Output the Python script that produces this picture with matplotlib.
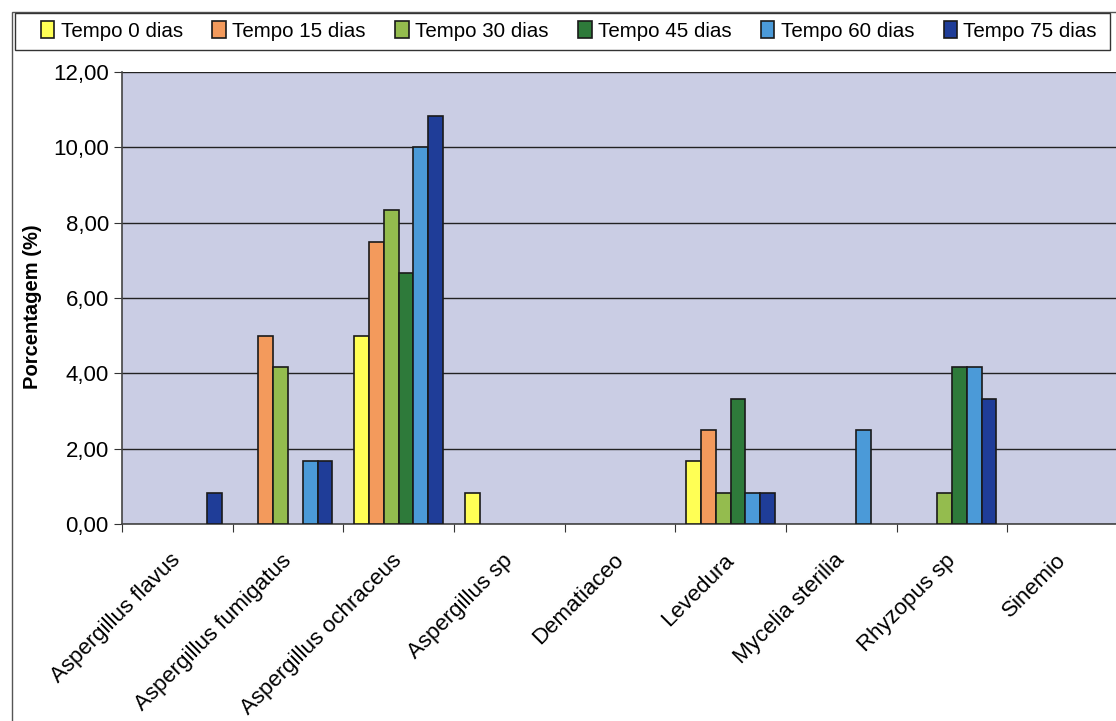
import numpy as np
import matplotlib.pyplot as plt
from matplotlib.patches import Rectangle
from matplotlib.transforms import ScaledTranslation

plt.rcParams['font.family'] = ['Liberation Sans', 'DejaVu Sans']

categorias = ['Aspergillus flavus', 'Aspergillus fumigatus', 'Aspergillus ochraceus',
              'Aspergillus sp', 'Dematiaceo', 'Levedura', 'Mycelia sterilia',
              'Rhyzopus sp', 'Sinemio']
series = ['Tempo 0 dias', 'Tempo 15 dias', 'Tempo 30 dias',
          'Tempo 45 dias', 'Tempo 60 dias', 'Tempo 75 dias']

t0 = [0, 0, 5.00, 0.83, 0, 1.67, 0, 0, 0]
t15 = [0, 5.00, 7.50, 0, 0, 2.50, 0, 0, 0]
t30 = [0, 4.17, 8.33, 0, 0, 0.83, 0, 0.83, 0]
t45 = [0, 0, 6.67, 0, 0, 3.33, 0, 4.17, 0]
t60 = [0, 1.67, 10.00, 0, 0, 0.83, 2.50, 4.17, 0]
t75 = [0.83, 1.67, 10.83, 0, 0, 0.83, 0, 3.33, 0]

cores = ['#FFFF55', '#F39A5C', '#94BC4E', '#2E7A3A', '#4B9AD8', '#1F3D98']

W, H = 1116, 721
fig = plt.figure(figsize=(W / 100, H / 100), dpi=100)

# moldura externa e caixa da legenda
fig.patches.append(Rectangle((12 / W, -0.01), 1.1, 1 - 12 / H + 0.01,
                             transform=fig.transFigure, fill=False,
                             edgecolor='#555555', lw=1))
fig.patches.append(Rectangle((15 / W, 1 - 50 / H), 1095 / W, 37 / H,
                             transform=fig.transFigure, facecolor='white',
                             edgecolor='#333333', lw=1))

ax = fig.add_axes([122 / W, 197 / H, 996 / W, 452 / H])
ax.set_facecolor('#CACDE4')

x = np.arange(len(categorias))
largura = 0.8 / len(series)
for i, (nome, vals) in enumerate(zip(series, [t0, t15, t30, t45, t60, t75])):
    vals = np.array(vals)
    pos = x + (i - 2.5) * largura
    m = vals > 0
    ax.bar(pos[m], vals[m], width=largura, color=cores[i], edgecolor='#1a1a1a',
           lw=1.2, zorder=3, label=nome)

ax.set_xlim(-0.5, len(categorias) - 0.5)
ax.set_ylim(0, 12)
ax.set_yticks(np.arange(0, 13, 2))
ax.set_yticklabels([f'{v:.2f}'.replace('.', ',') for v in np.arange(0, 13, 2)],
                   fontsize=16)
ax.yaxis.grid(True, color='#222222', lw=1, zorder=1)
ax.set_axisbelow(True)

ax.set_xticks(np.arange(-0.5, len(categorias)), labels=[])
ax.set_xticks(x, minor=True)
ax.set_xticklabels(categorias, minor=True, rotation=45, ha='right', va='center',
                   rotation_mode='anchor', fontsize=16)
desloc = ScaledTranslation(-8 / 100, 0, fig.dpi_scale_trans)
for t in ax.get_xticklabels(minor=True):
    t.set_transform(t.get_transform() + desloc)
ax.tick_params(axis='x', which='minor', length=0, pad=24)
ax.tick_params(axis='x', which='major', length=6, color='#333333', direction='out')
ax.tick_params(axis='y', length=6, color='#333333', direction='out', pad=3.5)

for s in ['left', 'bottom']:
    ax.spines[s].set_color('#444444')
    ax.spines[s].set_lw(1.2)
ax.spines['right'].set_visible(False)
ax.spines['top'].set_visible(False)

ax.set_ylabel('Porcentagem (%)', fontsize=14.5, fontweight='bold')
ax.yaxis.set_label_coords(-80 / 996, 0.48)

leg = fig.legend(loc='center', ncol=6, bbox_to_anchor=(569 / W, 1 - 31 / H),
                 fontsize=14.8, handlelength=0.65, handleheight=0.85,
                 handletextpad=0.3, columnspacing=1.45, frameon=False)

fig.savefig('out.png', dpi=100)
